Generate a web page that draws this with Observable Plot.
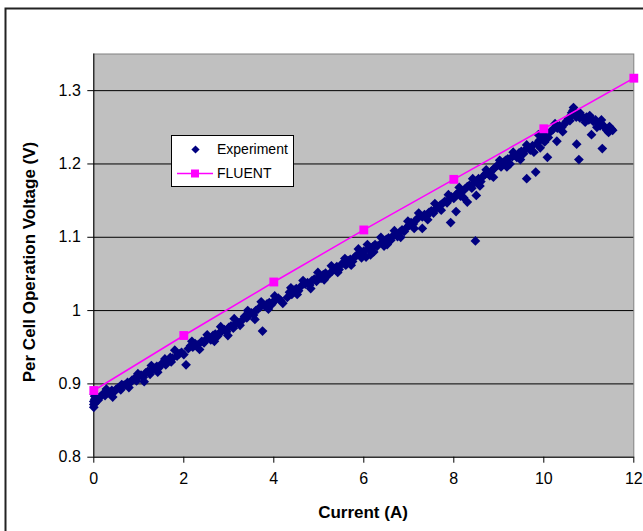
<!DOCTYPE html>
<html>
<head>
<meta charset="utf-8">
<script src="https://cdn.jsdelivr.net/npm/d3@7"></script>
<script src="https://cdn.jsdelivr.net/npm/@observablehq/plot@0.6"></script>
<style>
  html, body { margin: 0; padding: 0; overflow: hidden; background: #fff; }
</style>
</head>
<body>
<div id="chart"></div>
<script>
// ---- Data ----
const xTicks = [0, 2, 4, 6, 8, 10, 12];
const yTicks = [0.8, 0.9, 1.0, 1.1, 1.2, 1.3];

const fluentX = [0, 2, 4, 6, 8, 10, 12];
const fluentY = [0.891, 0.966, 1.039, 1.110, 1.179, 1.248, 1.317];

const expX = [
  0, 0, 0, 0.02, 0.02, 0.03, 0.05, 0.01,
  0.15, 0.2, 0.25, 0.3, 0.35, 0.4, 0.45, 0.5, 0.55, 0.6, 0.65, 0.7, 0.75, 0.8, 0.85, 0.9, 0.95,
  1.0, 1.05, 1.1, 1.15, 1.2, 1.25, 1.3, 1.35, 1.4, 1.45, 1.5, 1.55, 1.6, 1.65, 1.7, 1.75, 1.85, 1.9, 1.95,
  2.0, 2.05, 2.1, 2.15, 2.2, 2.25, 2.3, 2.4, 2.45, 2.5, 2.55, 2.6, 2.65, 2.7, 2.75, 2.8, 2.85, 2.9, 2.95,
  3.0, 3.05, 3.1, 3.15, 3.2, 3.3, 3.35, 3.4, 3.45, 3.5, 3.55, 3.6, 3.65, 3.7, 3.75, 3.8, 3.85, 3.9, 3.95,
  4.0, 4.05, 4.1, 4.15, 4.3, 4.35, 4.4, 4.45, 4.5, 4.55, 4.6, 4.7, 4.75, 4.8, 4.85, 4.9, 4.95,
  5.0, 5.05, 5.1, 5.15, 5.2, 5.3, 5.35, 5.4, 5.45, 5.5, 5.55, 5.6, 5.65, 5.7, 5.75, 5.8, 5.85, 5.9, 5.95,
  6.0, 6.05, 6.1, 6.15, 6.2, 6.25, 6.3, 6.4, 6.45, 6.5, 6.55, 6.6, 6.65, 6.7, 6.75, 6.8, 6.85, 6.9, 6.95,
  7.0, 7.05, 7.1, 7.15, 7.2, 7.3, 7.3, 7.35, 7.4, 7.45, 7.5, 7.55, 7.6, 7.65, 7.7, 7.75, 7.8, 7.85, 7.9, 7.93, 7.95,
  8.0, 8.05, 8.05, 8.1, 8.15, 8.2, 8.25, 8.3, 8.3, 8.35, 8.4, 8.45, 8.48, 8.5, 8.5, 8.55, 8.6, 8.65, 8.7, 8.75, 8.8, 8.85, 8.9, 8.95,
  9.0, 9.05, 9.1, 9.15, 9.2, 9.25, 9.3, 9.35, 9.4, 9.45, 9.5, 9.55, 9.6, 9.62, 9.65, 9.7, 9.75, 9.82, 9.85, 9.9, 9.92, 9.95,
  10.0, 10.02, 10.08, 10.15, 10.2, 10.29, 10.3, 10.35, 10.4, 10.45, 10.5, 10.55, 10.6, 10.62, 10.65, 10.68, 10.7, 10.72, 10.73, 10.75, 10.78, 10.8, 10.85, 10.9, 10.95,
  11.0, 11.06, 11.05, 11.1, 11.15, 11.2, 11.25, 11.3, 11.3, 11.35, 11.4, 11.44, 11.5, 11.53,
  0.1, 0.28, 0.42, 0.62, 0.78, 0.98, 1.12, 1.28, 1.42, 1.58, 1.72, 1.8,
  2.18, 2.35, 2.52, 2.68, 2.82, 2.98, 3.12, 3.25, 3.42, 3.58, 3.72, 3.88,
  4.02, 4.2, 4.38, 4.52, 4.65, 4.82, 4.98, 5.12, 5.28, 5.42, 5.58, 5.72, 5.88,
  6.08, 6.22, 6.38, 6.52, 6.68, 6.82, 6.98, 7.12, 7.22, 7.42, 7.58, 7.72, 7.88,
  8.12, 8.22, 8.42, 8.58, 8.72, 8.88, 9.02, 9.18, 9.32, 9.48, 9.62, 9.78, 9.88,
  10.1, 10.25, 10.42, 10.58, 10.66, 10.8, 10.92, 11.02, 11.18, 11.28, 11.46
];
const expY = [
  0.868, 0.872, 0.876, 0.879, 0.883, 0.874, 0.880, 0.886,
  0.883, 0.886, 0.884, 0.888, 0.887, 0.891, 0.889, 0.893, 0.895, 0.892, 0.898, 0.899, 0.902, 0.901, 0.905, 0.907, 0.904,
  0.910, 0.912, 0.909, 0.915, 0.917, 0.913, 0.920, 0.921, 0.924, 0.922, 0.927, 0.929, 0.926, 0.932, 0.936, 0.935, 0.938, 0.941, 0.943,
  0.940, 0.926, 0.948, 0.952, 0.950, 0.955, 0.953, 0.958, 0.956, 0.961, 0.963, 0.960, 0.966, 0.968, 0.965, 0.970, 0.972, 0.974, 0.971,
  0.977, 0.979, 0.976, 0.982, 0.984, 0.987, 0.992, 0.990, 0.995, 0.997, 0.994, 1.000, 1.002, 1.005, 0.972, 1.006, 1.009, 1.011, 1.008,
  1.013, 1.015, 1.017, 1.014, 1.018, 1.025, 1.022, 1.028, 1.030, 1.027, 1.033, 1.036, 1.038, 1.035, 1.041, 1.043, 1.040,
  1.046, 1.044, 1.049, 1.051, 1.048, 1.054, 1.057, 1.060, 1.056, 1.063, 1.065, 1.062, 1.068, 1.070, 1.067, 1.073, 1.076, 1.078, 1.072,
  1.081, 1.073, 1.084, 1.076, 1.087, 1.090, 1.088, 1.093, 1.088, 1.097, 1.099, 1.096, 1.102, 1.104, 1.101, 1.107, 1.110, 1.108, 1.113,
  1.116, 1.120, 1.118, 1.123, 1.126, 1.112, 1.128, 1.131, 1.129, 1.134, 1.136, 1.133, 1.139, 1.141, 1.144, 1.146, 1.149, 1.147, 1.152, 1.120, 1.155,
  1.153, 1.135, 1.158, 1.161, 1.156, 1.163, 1.166, 1.148, 1.169, 1.171, 1.167, 1.174, 1.095, 1.157, 1.177, 1.180, 1.176, 1.183, 1.186, 1.188, 1.184, 1.191, 1.194, 1.197,
  1.199, 1.196, 1.202, 1.205, 1.207, 1.200, 1.210, 1.212, 1.209, 1.215, 1.217, 1.214, 1.220, 1.180, 1.222, 1.219, 1.225, 1.189, 1.228, 1.232, 1.222, 1.236,
  1.240, 1.230, 1.209, 1.244, 1.247, 1.231, 1.249, 1.252, 1.250, 1.254, 1.258, 1.262, 1.266, 1.270, 1.273, 1.270, 1.268, 1.264, 1.227, 1.266, 1.206, 1.263, 1.265, 1.262, 1.264,
  1.260, 1.240, 1.262, 1.258, 1.260, 1.256, 1.252, 1.221, 1.254, 1.250, 1.246, 1.243, 1.248, 1.246,
  0.878, 0.893, 0.882, 0.899, 0.895, 0.914, 0.903, 0.925, 0.916, 0.934, 0.930, 0.946,
  0.958, 0.947, 0.967, 0.958, 0.978, 0.966, 0.989, 0.980, 1.000, 0.988, 1.012, 1.002,
  1.020, 1.010, 1.031, 1.022, 1.041, 1.030, 1.052, 1.042, 1.061, 1.052, 1.071, 1.062, 1.084,
  1.090, 1.080, 1.100, 1.090, 1.109, 1.100, 1.122, 1.112, 1.133, 1.124, 1.146, 1.137, 1.158,
  1.168, 1.154, 1.180, 1.170, 1.192, 1.182, 1.205, 1.196, 1.216, 1.206, 1.226, 1.216, 1.240,
  1.236, 1.255, 1.244, 1.259, 1.277, 1.270, 1.257, 1.266, 1.250, 1.260, 1.251
];

const experiment = expX.map((x, i) => ({x, y: expY[i]}));
const fluent = fluentX.map((x, i) => ({x, y: fluentY[i]}));

// Excel-style square-rotated diamond
const diamondSquare = {
  draw(context, size) {
    const r = Math.sqrt(size / 2);
    context.moveTo(0, -r);
    context.lineTo(r, 0);
    context.lineTo(0, r);
    context.lineTo(-r, 0);
    context.closePath();
  }
};

const fmtY = d => (Math.abs(d - 1) < 1e-9 ? "1" : d.toFixed(1));

const svg = Plot.plot({
  width: 643,
  height: 531,
  marginLeft: 93.3,
  marginRight: 9.7,
  marginTop: 53.5,
  marginBottom: 74.3,
  style: {
    background: "#fff",
    color: "#000",
    fontFamily: "'Liberation Sans', Arial, sans-serif",
    fontSize: "16px",
    overflow: "hidden"
  },
  x: {domain: [0, 12]},
  y: {domain: [0.8, 1.35]},
  marks: [
    Plot.frame({fill: "#C0C0C0", stroke: "#808080", strokeWidth: 1}),
    Plot.ruleY(yTicks.slice(1), {stroke: "#000", strokeWidth: 1}),
    Plot.ruleX([0], {stroke: "#000", strokeWidth: 1}),
    Plot.ruleY([0.8], {stroke: "#000", strokeWidth: 1}),
    Plot.axisY({ticks: yTicks, tickSize: 6, tickPadding: 7, tickFormat: fmtY, label: null, stroke: "#000", fill: "#000"}),
    Plot.axisX({ticks: xTicks, tickSize: 6, tickPadding: 9, tickFormat: d => String(d), label: null, stroke: "#000", fill: "#000"}),
    Plot.dot(experiment, {x: "x", y: "y", symbol: diamondSquare, r: 3.9, fill: "#000080", stroke: "none"}),
    Plot.line(fluent, {x: "x", y: "y", stroke: "#FF00FF", strokeWidth: 1.5}),
    Plot.dot(fluent, {x: "x", y: "y", symbol: "square", r: 5, fill: "#FF00FF", stroke: "none"})
  ]
});

document.getElementById("chart").appendChild(svg);

const s = d3.select(svg);
const font = "'Liberation Sans', Arial, sans-serif";

// Outer chart border (top and left visible)
s.append("rect")
  .attr("x", 5.5).attr("y", 8.5)
  .attr("width", 700).attr("height", 600)
  .attr("fill", "none").attr("stroke", "#222").attr("stroke-width", 2);

// Axis titles
s.append("text")
  .attr("x", 363).attr("y", 512).attr("dy", "0.35em")
  .attr("text-anchor", "middle")
  .attr("font-family", font).attr("font-size", 17).attr("font-weight", "bold")
  .attr("fill", "#000")
  .text("Current (A)");

s.append("text")
  .attr("transform", "translate(29,262) rotate(-90)")
  .attr("dy", "0.35em")
  .attr("text-anchor", "middle")
  .attr("font-family", font).attr("font-size", 17).attr("font-weight", "bold")
  .attr("fill", "#000")
  .text("Per Cell Operation Voltage (V)");

// Legend
const lg = s.append("g");
lg.append("rect")
  .attr("x", 171.5).attr("y", 135.5).attr("width", 122).attr("height", 51)
  .attr("fill", "#fff").attr("stroke", "#000").attr("stroke-width", 1);
lg.append("path")
  .attr("d", d3.symbol(diamondSquare, 34)())
  .attr("transform", "translate(195.5,149.5)")
  .attr("fill", "#000080");
lg.append("text")
  .attr("x", 217).attr("y", 149).attr("dy", "0.35em")
  .attr("text-anchor", "start")
  .attr("font-family", font).attr("font-size", 14).attr("fill", "#000")
  .text("Experiment");
lg.append("line")
  .attr("x1", 177).attr("x2", 213).attr("y1", 173.5).attr("y2", 173.5)
  .attr("stroke", "#FF00FF").attr("stroke-width", 1.5);
lg.append("path")
  .attr("d", d3.symbol(d3.symbolSquare, 64)())
  .attr("transform", "translate(195,173.5)")
  .attr("fill", "#FF00FF");
lg.append("text")
  .attr("x", 217).attr("y", 173.5).attr("dy", "0.35em")
  .attr("text-anchor", "start")
  .attr("font-family", font).attr("font-size", 14).attr("fill", "#000")
  .text("FLUENT");
</script>
</body>
</html>
